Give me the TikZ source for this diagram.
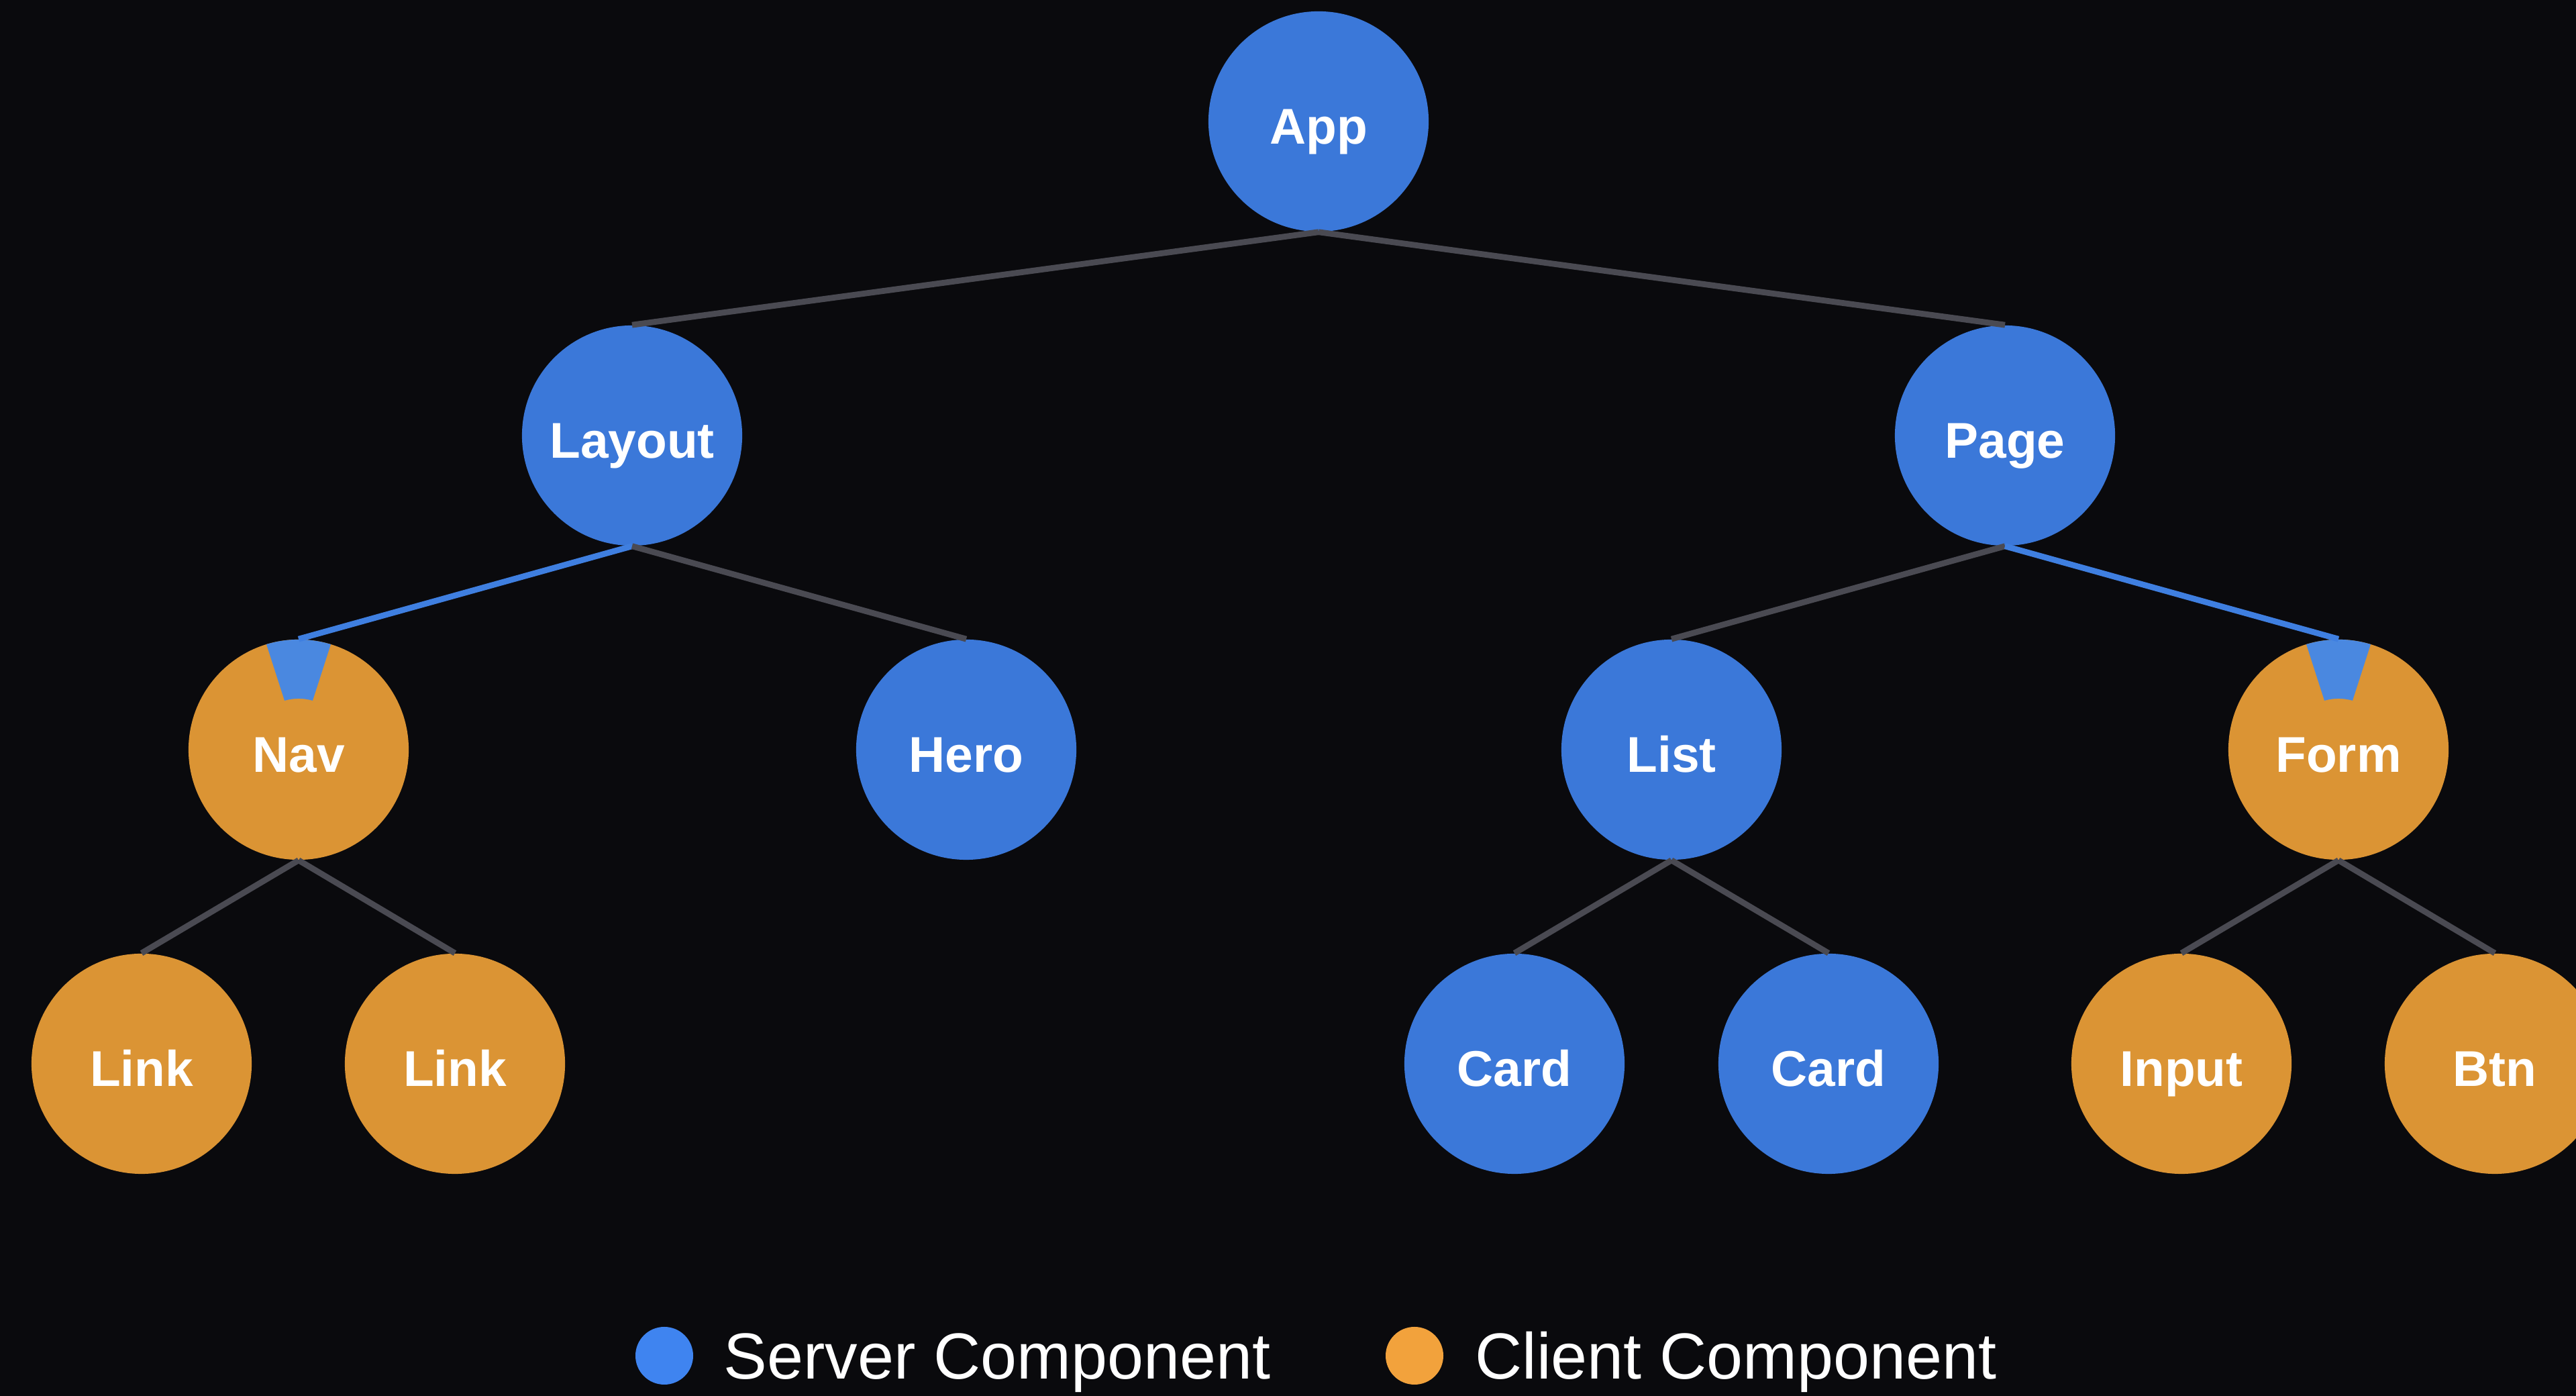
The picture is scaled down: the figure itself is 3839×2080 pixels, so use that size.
\documentclass[tikz,border=0pt]{standalone}
\usepackage{fontspec}
\setmainfont{Liberation Sans}
\definecolor{bgc}{HTML}{0A0A0D}
\definecolor{srv}{HTML}{3B78D9}
\definecolor{cli}{HTML}{DB9434}
\definecolor{edgegray}{HTML}{4A4A52}
\definecolor{edgeblue}{HTML}{3F7FE0}
\definecolor{wedgeblue}{HTML}{4A88E0}
\definecolor{legblue}{HTML}{3F84F0}
\definecolor{legorange}{HTML}{F2A23C}
\tikzset{
  comp/.style={circle, minimum size=3.28cm, inner sep=0pt, text=white,
    font=\bfseries\fontsize{21.3}{25}\selectfont, text height=0.68cm, text depth=0cm},
  server/.style={comp, fill=srv},
  client/.style={comp, fill=cli},
  gedge/.style={draw=edgegray, line width=2.5pt},
  bedge/.style={draw=edgeblue, line width=2.5pt},
  legtext/.style={text=white, font=\fontsize{27.6}{32}\selectfont, inner sep=0pt, anchor=base west}
}
\begin{document}
\begin{tikzpicture}[x=0.01cm,y=0.01cm]
\fill[bgc] (0,0) rectangle (3839,2080);
\useasboundingbox (0,0) rectangle (3839,2080);
% nodes
\node[server] (app) at (1965,1899) {App};
\node[server] (layout) at (942,1431) {Layout};
\node[server] (page) at (2988,1431) {Page};
\node[client] (nav) at (445,963) {Nav};
\node[server] (hero) at (1440,963) {Hero};
\node[server] (list) at (2491,963) {List};
\node[client] (form) at (3485,963) {Form};
\node[client] (link1) at (211,495) {Link};
\node[client] (link2) at (678,495) {Link};
\node[server] (card1) at (2257,495) {Card};
\node[server] (card2) at (2725,495) {Card};
\node[client] (input) at (3251,495) {Input};
\node[client] (btn) at (3718,495) {Btn};
% wedges
\foreach \n in {nav,form}{
  \fill[wedgeblue] ([shift={(73:1.64cm)}]\n.center) arc[start angle=73, end angle=107, radius=1.64cm]
    -- ([shift={(106:0.76cm)}]\n.center) arc[start angle=106, end angle=74, radius=0.76cm] -- cycle;
}
% edges
\draw[gedge] (app.south) -- (layout.north);
\draw[gedge] (app.south) -- (page.north);
\draw[bedge] (layout.south) -- (nav.north);
\draw[gedge] (layout.south) -- (hero.north);
\draw[gedge] (page.south) -- (list.north);
\draw[bedge] (page.south) -- (form.north);
\draw[gedge] (nav.south) -- (link1.north);
\draw[gedge] (nav.south) -- (link2.north);
\draw[gedge] (list.south) -- (card1.north);
\draw[gedge] (list.south) -- (card2.north);
\draw[gedge] (form.south) -- (input.north);
\draw[gedge] (form.south) -- (btn.north);
% legend
\fill[legblue] (990,60) circle[radius=43] coordinate (ldot1);
\node[legtext] (ltext1) at (1078,25) {Server Component};
\fill[legorange] (2108,60) circle[radius=43] coordinate (ldot2);
\node[legtext] (ltext2) at (2198,25) {Client Component};
\end{tikzpicture}
\end{document}
